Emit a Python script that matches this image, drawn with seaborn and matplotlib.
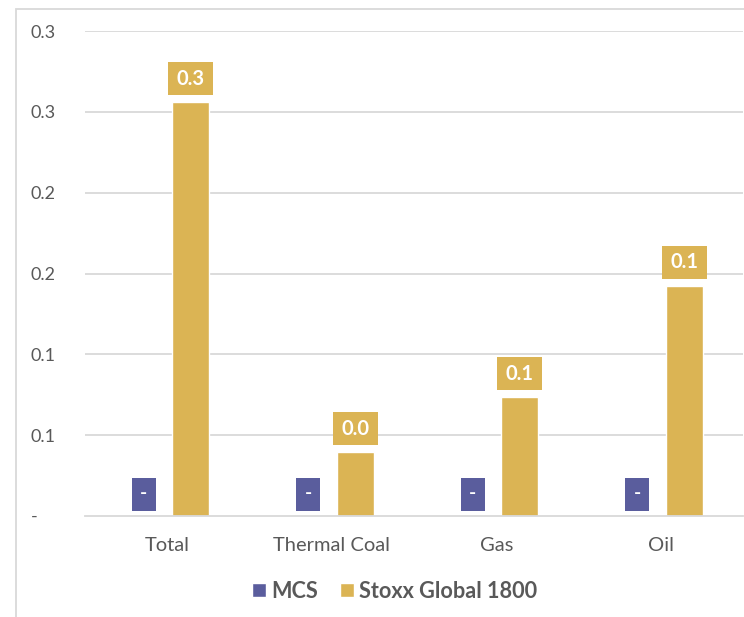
import matplotlib
matplotlib.use("Agg")
import matplotlib.pyplot as plt
import seaborn as sns
import pandas as pd
from matplotlib.patches import Rectangle, Patch
from matplotlib.path import Path

categories = ["Total", "Thermal Coal", "Gas", "Oil"]
series_names = ["MCS", "Stoxx Global 1800"]
mcs_values = [0.0, 0.0, 0.0, 0.0]
stoxx_values = [0.256, 0.0395, 0.0734, 0.1423]
mcs_labels = ["-", "-", "-", "-"]
stoxx_labels = ["0.3", "0.0", "0.1", "0.1"]
ytick_values = [0.0, 0.05, 0.10, 0.15, 0.20, 0.25, 0.30]
ytick_labels = ["-    ", "0.1", "0.1", "0.2", "0.2", "0.3", "0.3"]

PURPLE = "#5A5D9D"
GOLD = "#DBB454"
GRID = "#D9D9D9"
TXT = "#595959"

sns.set_theme(style="white")
plt.rcParams["font.family"] = ["Lato", "DejaVu Sans"]

df = pd.DataFrame({
    "category": categories * 2,
    "series": [series_names[0]] * 4 + [series_names[1]] * 4,
    "value": mcs_values + stoxx_values,
})

W, H = 744, 617
fig = plt.figure(figsize=(W / 100, H / 100), dpi=100)
ax = fig.add_axes([85 / W, (H - 516) / H, (743 - 85) / W, (516 - 31) / H])

sns.barplot(data=df, x="category", y="value", hue="series", order=categories,
            hue_order=series_names, palette=[PURPLE, GOLD], width=0.572, gap=0.21,
            saturation=1, ax=ax, legend=False, zorder=2)

ax.set_xlim(-0.5, 3.5)
ax.set_ylim(0, 0.3)
ax.set_yticks(ytick_values)
ax.set_yticklabels(ytick_labels)
ax.set_xlabel("")
ax.set_ylabel("")
for v in ytick_values[1:]:
    ax.axhline(v, color=GRID, lw=1.3, zorder=0)
for s in ["top", "right", "left"]:
    ax.spines[s].set_visible(False)
ax.spines["bottom"].set_color(GRID)
ax.spines["bottom"].set_linewidth(1.3)
ax.tick_params(axis="y", length=0, pad=21, labelsize=13, labelcolor=TXT)
ax.tick_params(axis="x", which="major", length=0, pad=15, labelsize=14.5, labelcolor=TXT)
ax.set_xticks([i - 0.5 for i in range(len(categories) + 1)], minor=True)
ax.tick_params(axis="x", which="minor", length=5, width=1.3, color=GRID, direction="out")


def fixed_box(wpx, hpx):
    def style(x0, y0, width, height, mutation_size):
        cx = x0 + width / 2
        cy = y0 + height / 2
        l, r = cx - wpx / 2, cx + wpx / 2
        b, t = cy - hpx / 2, cy + hpx / 2
        return Path([(l, b), (r, b), (r, t), (l, t), (l, b)], closed=True)
    return style


bars = ax.patches
n = len(categories)
for i, b in enumerate(bars[:n]):
    xc = b.get_x() + b.get_width() / 2
    ax.annotate(mcs_labels[i], xy=(xc, b.get_height()), xytext=(0, 22),
                textcoords="offset pixels", ha="center", va="center",
                color="white", fontsize=14, fontweight="bold",
                bbox=dict(boxstyle=fixed_box(24, 33), fc=PURPLE, ec="none"), zorder=3)
for i, b in enumerate(bars[n:2 * n]):
    xc = b.get_x() + b.get_width() / 2
    ax.annotate(stoxx_labels[i], xy=(xc, b.get_height()), xytext=(0, 23.5),
                textcoords="offset pixels", ha="center", va="center",
                color="white", fontsize=14.5, fontweight="bold",
                bbox=dict(boxstyle=fixed_box(45, 33), fc=GOLD, ec="none"), zorder=3)

handles = [Patch(facecolor=PURPLE, label=series_names[0]),
           Patch(facecolor=GOLD, label=series_names[1])]
leg = fig.legend(handles=handles, loc="center", bbox_to_anchor=(395 / W, 1 - 591 / H),
                 ncol=2, frameon=False, handlelength=0.62, handleheight=0.62,
                 handletextpad=0.27, columnspacing=1.0,
                 prop={"size": 15.6, "weight": "bold"})
for t in leg.get_texts():
    t.set_color(TXT)

fig.add_artist(Rectangle((16 / W, -0.5), 2.0, 1.5 - 9 / H, transform=fig.transFigure,
                         fill=False, ec=GRID, lw=1.3))

fig.savefig("out.png", dpi=100)
